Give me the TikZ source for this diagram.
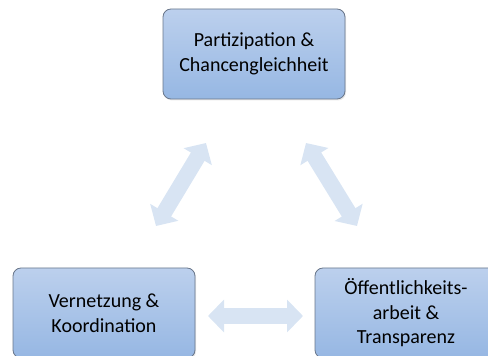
\documentclass[tikz,border=0pt]{standalone}
\usepackage{fontspec}
\setmainfont{Carlito}
\usetikzlibrary{arrows.meta,shadows}
\definecolor{boxtop}{RGB}{188,208,237}
\definecolor{boxbot}{RGB}{150,183,227}
\definecolor{boxline}{RGB}{105,118,138}
\definecolor{arrowfill}{RGB}{216,228,243}
\begin{document}
\begin{tikzpicture}[x=1pt,y=1pt,
  box/.style={rectangle, rounded corners=8pt, minimum width=182pt, minimum height=90pt,
    inner sep=0pt, top color=boxtop, bottom color=boxbot, draw=boxline, line width=0.8pt,
    align=center, font=\fontsize{20pt}{24.5pt}\selectfont,
    drop shadow={opacity=0.18, shadow xshift=1pt, shadow yshift=-1.5pt}},
  blockarrow/.style={draw=arrowfill, line width=16pt,
    {Triangle[width=32pt,length=16pt]}-{Triangle[width=32pt,length=16pt]}}]
\clip (0,0) rectangle (488,356);
\node[box] (top) at (254,302) {Partizipation \&\\Chancengleichheit};
\node[box] (left) at (104,43) {Vernetzung \&\\Koordination};
\node[box] (right) at (406,43) {Öffentlichkeits-\\arbeit \&\\Transparenz};
\coordinate (l1) at (156,130);
\coordinate (l2) at (206,213);
\coordinate (r1) at (306,213);
\coordinate (r2) at (357,130);
\coordinate (h1) at (208,40);
\coordinate (h2) at (303,40);
\draw[blockarrow] (l1) -- (l2);
\draw[blockarrow] (r1) -- (r2);
\draw[blockarrow] (h1) -- (h2);
\end{tikzpicture}
\end{document}
